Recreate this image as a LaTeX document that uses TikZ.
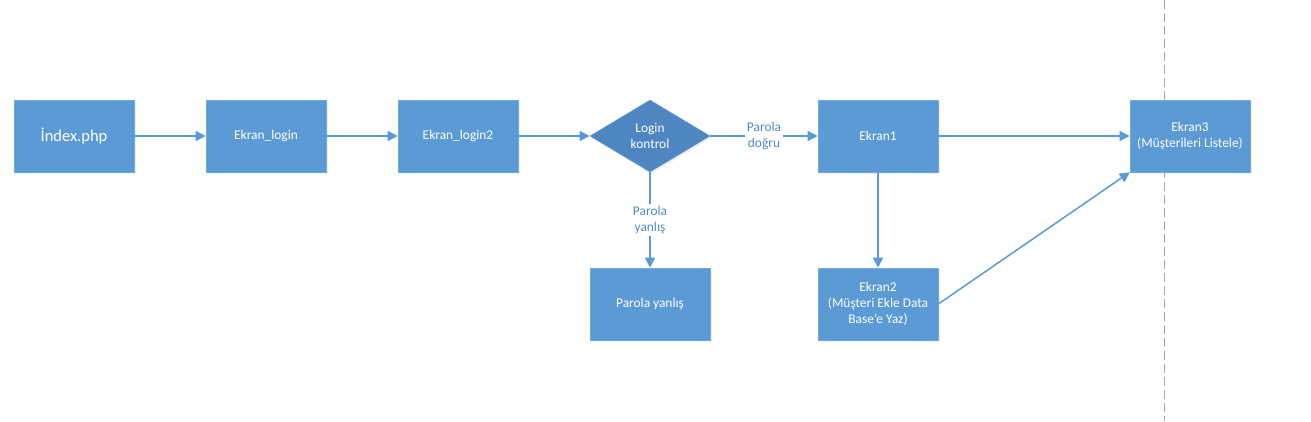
\documentclass[tikz,border=0pt]{standalone}
\usepackage{fontspec}
\setmainfont{Carlito}
\usetikzlibrary{arrows.meta,shapes.geometric,shadows}

\definecolor{boxblue}{HTML}{5B9BD5}
\definecolor{decblue}{HTML}{4E86C2}
\definecolor{lineblue}{HTML}{5B9BD5}
\definecolor{labelblue}{HTML}{4F8BC9}

\tikzset{
  screen/.style={rectangle, fill=boxblue, draw=boxblue!85!white, line width=0.6pt,
    minimum width=120pt, minimum height=72pt, inner sep=2pt, align=center,
    text=white, font=\fontsize{13.4}{16}\selectfont,
    drop shadow={shadow xshift=1.5pt, shadow yshift=-2pt, opacity=0.12}},
  check/.style={diamond, fill=decblue, draw=decblue!85!white, line width=0.6pt,
    minimum width=120pt, minimum height=72pt, inner sep=0pt, align=center,
    text=white, font=\fontsize{13.4}{16}\selectfont,
    drop shadow={shadow xshift=1.5pt, shadow yshift=-2pt, opacity=0.12}},
  flow/.style={draw=lineblue, line width=1.5pt, -{Triangle[length=10pt,width=10pt]}},
  answer/.style={fill=white, text=labelblue, align=center, inner sep=2pt,
    font=\fontsize{13.4}{16}\selectfont}
}

\begin{document}
\begin{tikzpicture}[x=1pt, y=-1pt]
  \useasboundingbox (0,0) rectangle (1311,421);

  % dashed divider behind the last screen
  \coordinate (divtop) at (1164,0);
  \coordinate (divbot) at (1164,421);
  \draw[gray!70, line width=0.8pt, dash pattern=on 9pt off 4pt] (divtop) -- (divbot);

  \node[screen, font=\fontsize{16.5}{19}\selectfont] (index) at (74,136) {İndex.php};
  \node[screen] (login) at (266,136) {Ekran\_login};
  \node[screen] (login2) at (458,136) {Ekran\_login2};
  \node[check] (control) at (650,136) {Login\\kontrol};
  \node[screen] (ekran1) at (878,136) {Ekran1};
  \node[screen] (ekran3) at (1190,136) {Ekran3\\(Müşterileri Listele)};
  \node[screen] (wrong) at (650,304) {Parola yanlış};
  \node[screen] (ekran2) at (878,304) {Ekran2\\(Müşteri Ekle Data\\Base’e Yaz)};

  \draw[flow] (index) -- (login);
  \draw[flow] (login) -- (login2);
  \draw[flow] (login2) -- (control);
  \draw[flow] (control) -- node[answer] {Parola\\doğru} (ekran1);
  \draw[flow] (control) -- node[answer] {Parola\\yanlış} (wrong);
  \draw[flow] (ekran1) -- (ekran3);
  \draw[flow] (ekran1) -- (ekran2);
  \draw[flow] (ekran2.east) -- (ekran3.south west);
\end{tikzpicture}
\end{document}
